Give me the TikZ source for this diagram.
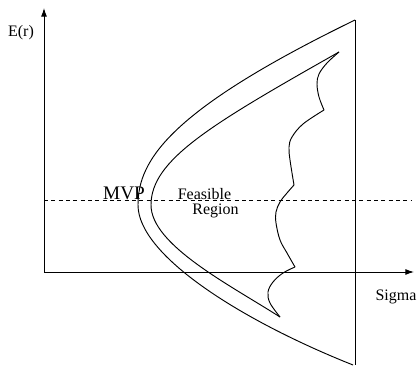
\documentclass[tikz,border=0pt]{standalone}
\usepackage{fontspec}
\setmainfont{Liberation Serif}
\usetikzlibrary{arrows.meta}

\begin{document}
\begin{tikzpicture}[x=0.75pt, y=-0.75pt, line width=0.7pt,
        etiq/.style={inner sep=0pt, font=\large},
        eje/.style={-{Latex[length=6.5pt, width=4.5pt]}}]
  \useasboundingbox (0,0) rectangle (420,366);
  % ejes
  \coordinate (o) at (44,272);
  \coordinate (ytop) at (44,8);
  \coordinate (xend) at (414,272);
  \draw[eje] (o) -- (ytop);
  \draw[eje] (o) -- (xend);
  \node[etiq] (er) at (21,33) {E(r)};
  \node[etiq] (sig) at (396,297) {Sigma};
  % linea del MVP
  \draw[dash pattern=on 3pt off 2.5pt] (44,200) -- (411,200);
  % frontera exterior
  \coordinate (et) at (355,20);
  \coordinate (ev) at (138,205);
  \coordinate (eb) at (353,365);
  \draw (et) .. controls (170,110) and (138,160) .. (ev)
             .. controls (138,255) and (240,320) .. (eb);
  \draw (et) -- (355,365);
  % region factible
  \coordinate (it) at (339,52);
  \coordinate (iv) at (151,205);
  \coordinate (ib) at (280,317);
  \draw (it) .. controls (210,125) and (151,160) .. (iv)
             .. controls (151,245) and (230,285) .. (ib);
  \draw plot[smooth, tension=0.6] coordinates {(339,52) (327,63) (319,74) (317,84) (319,97) (324,110)};
  \draw plot[smooth, tension=0.6] coordinates {(324,110) (303,124) (292,137) (289,147) (290,160) (294,185)};
  \draw plot[smooth, tension=0.6] coordinates {(294,185) (287,193) (280,202) (276,212) (276,223) (280,240) (287,253) (295,267)};
  \draw plot[smooth, tension=0.6] coordinates {(295,267) (283,273) (273,282) (268,292) (270,303) (280,317)};
  % textos
  \node[etiq, font=\Large] (mvp) at (124,193.5) {MVP};
  \node[etiq] (fea) at (204.5,194) {Feasible};
  \node[etiq] (reg) at (215.5,211) {Region};
\end{tikzpicture}
\end{document}
